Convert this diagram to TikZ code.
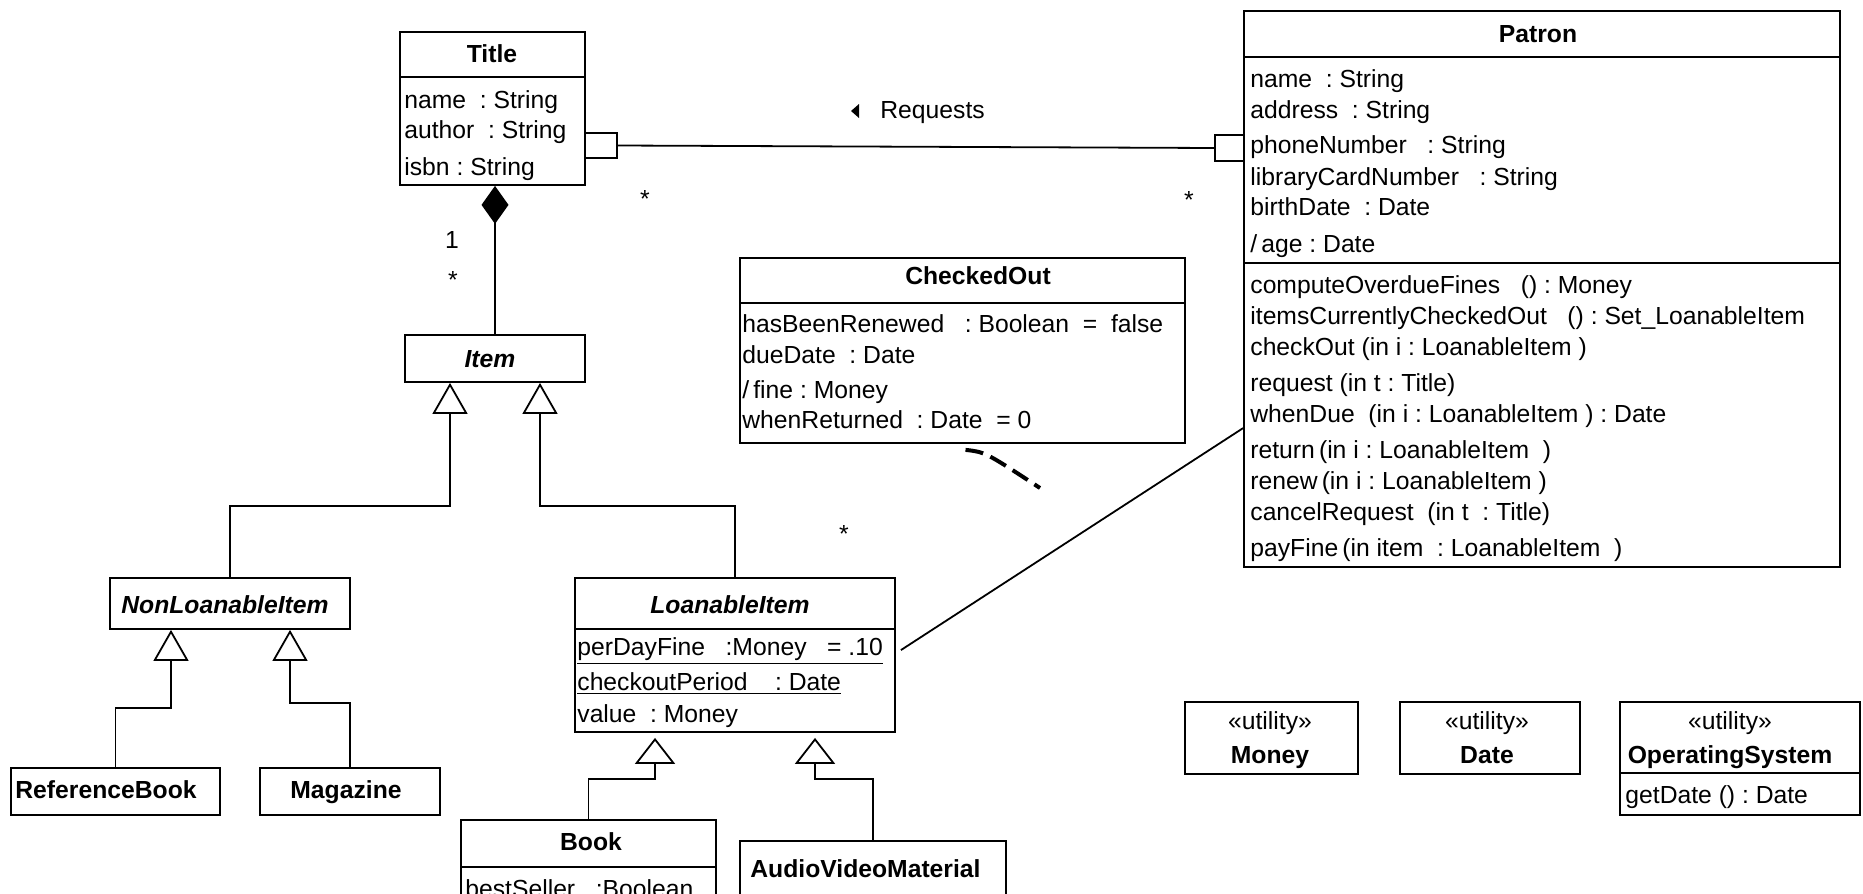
\documentclass[tikz,border=0pt]{standalone}
\usepackage{fontspec}
\setmainfont{Liberation Sans}
\usetikzlibrary{fit,arrows.meta,calc}
\begin{document}
\begin{tikzpicture}[x=0.5pt,y=-0.5pt,
  box/.style={draw,inner sep=0pt,line width=0.9pt},
  txt/.style={inner sep=0pt,anchor=base west,font=\fontsize{12.35pt}{14pt}\selectfont},
  hdr/.style={inner sep=0pt,anchor=base,font=\fontsize{12.35pt}{14pt}\selectfont\bfseries},
  ihdr/.style={inner sep=0pt,anchor=base,font=\fontsize{12.35pt}{14pt}\selectfont\bfseries\itshape},
  ster/.style={inner sep=0pt,anchor=base,font=\fontsize{12.35pt}{14pt}\selectfont},
  conn/.style={line width=0.9pt},
  gen/.style={line width=0.9pt,-{Triangle[open,length=15.5pt,width=17.5pt]}},
  genb/.style={line width=0.9pt,-{Triangle[open,length=13pt,width=20pt]}},
]
\useasboundingbox (0,0) rectangle (1863,894);
\clip (0,0) rectangle (1863,894);

% ---------- Title ----------
\node[box,fit={(400,32) (585,77)}] (titleh) {};
\node[box,fit={(400,77) (585,185)}] (titleb) {};
\node[hdr] (titlet) at (492,62) {Title};
\node[txt] (ta1) at (404,108) {name~~:~String};
\node[txt] (ta2) at (404,138) {author~~:~String};
\node[txt] (ta3) at (404,175) {isbn~:~String};

% ---------- qualifiers ----------
\node[box,fit={(585,133) (617,158)}] (tq) {};
\node[box,fit={(1215,135) (1244,161)}] (pq) {};

% ---------- Patron ----------
\node[box,fit={(1244,11) (1840,57)}] (patronh) {};
\node[box,fit={(1244,57) (1840,263)}] (patrona) {};
\node[box,fit={(1244,263) (1840,567)}] (patrono) {};
\node[hdr] (patront) at (1538,42) {Patron};
\node[txt] (pa1) at (1250,87) {name~~:~String};
\node[txt] (pa2) at (1250,118) {address~~:~String};
\node[txt] (pa3) at (1250,153) {phoneNumber~~~:~String};
\node[txt] (pa4) at (1250,185) {libraryCardNumber~~~:~String};
\node[txt] (pa5) at (1250,215) {birthDate~~:~Date};
\node[txt] (pa6) at (1250,252) {/\,age~:~Date};
\node[txt] (po1) at (1250,293) {computeOverdueFines~~~()~:~Money};
\node[txt] (po2) at (1250,324) {itemsCurrentlyCheckedOut~~~()~:~Set\_LoanableItem};
\node[txt] (po3) at (1250,355) {checkOut~(in~i~:~LoanableItem~)};
\node[txt] (po4) at (1250,391) {request~(in~t~:~Title)};
\node[txt] (po5) at (1250,422) {whenDue~~(in~i~:~LoanableItem~)~:~Date};
\node[txt] (po6) at (1250,458) {return\,(in~i~:~LoanableItem~~)};
\node[txt] (po7) at (1250,489) {renew\,(in~i~:~LoanableItem~)};
\node[txt] (po8) at (1250,520) {cancelRequest~~(in~t~~:~Title)};
\node[txt] (po9) at (1250,556) {payFine\,(in~item~~:~LoanableItem~~)};

% ---------- CheckedOut ----------
\node[box,fit={(740,258) (1185,303)}] (checkh) {};
\node[box,fit={(740,303) (1185,443)}] (checkb) {};
\node[hdr] (checkt) at (978,284) {CheckedOut};
\node[txt] (ca1) at (742,332) {hasBeenRenewed~~~:~Boolean~~=~~false};
\node[txt] (ca2) at (742,363) {dueDate~~:~Date};
\node[txt] (ca3) at (742,398) {/\,fine~:~Money};
\node[txt] (ca4) at (742,428) {whenReturned~~:~Date~~=~0};

% ---------- Item ----------
\node[box,fit={(405,335) (585,382)}] (item) {};
\node[ihdr] (itemt) at (490,367) {Item};

% ---------- NonLoanableItem ----------
\node[box,fit={(110,578) (350,629)}] (nonloan) {};
\node[ihdr] (nonloant) at (225,613) {NonLoanableItem};

% ---------- LoanableItem ----------
\node[box,fit={(575,578) (895,629)}] (loanh) {};
\node[box,fit={(575,629) (895,732)}] (loanb) {};
\node[ihdr] (loant) at (730,613) {LoanableItem};
\node[txt] (la1) at (577,655) {\underline{perDayFine~~~:Money~~~=~.10}};
\node[txt] (la2) at (577,690) {\underline{checkoutPeriod~~~~:~Date}};
\node[txt] (la3) at (577,722) {value~~:~Money};

% ---------- leaves ----------
\node[box,fit={(11,768) (220,815)}] (refbook) {};
\node[hdr] (refbookt) at (106,798) {ReferenceBook};
\node[box,fit={(260,768) (440,815)}] (magazine) {};
\node[hdr] (magazinet) at (346,798) {Magazine};
\node[box,fit={(461,820) (716,867)}] (bookh) {};
\node[box,fit={(461,867) (716,960)}] (bookb) {};
\node[hdr] (bookt) at (591,850) {Book};
\node[txt] (ba1) at (465,897) {bestSeller~~~:Boolean};
\node[box,fit={(740,841) (1006,960)}] (avm) {};
\node[txt,font=\fontsize{12.35pt}{14pt}\selectfont\bfseries] (avmt) at (750,877) {AudioVideoMaterial};

% ---------- utilities ----------
\node[box,fit={(1185,702) (1358,774)}] (money) {};
\node[ster] (moneys) at (1270,729) {«utility»};
\node[hdr] (moneyt) at (1270,763) {Money};
\node[box,fit={(1400,702) (1580,774)}] (date) {};
\node[ster] (dates) at (1487,729) {«utility»};
\node[hdr] (datet) at (1487,763) {Date};
\node[box,fit={(1620,702) (1860,773)}] (osh) {};
\node[box,fit={(1620,773) (1860,815)}] (osb) {};
\node[ster] (oss) at (1730,729) {«utility»};
\node[hdr] (ost) at (1730,763) {OperatingSystem};
\node[txt] (oso) at (1625,803) {getDate~()~:~Date};

% ---------- composition Title <>-- Item ----------
\draw[conn,{Diamond[length=19pt,width=13.5pt]}-] (item.north |- titleb.south) -- (item.north);
\node[ster] (m1) at (452,248) {1};
\node[ster] (m2) at (453,288) {*};

% ---------- Requests association ----------
\draw[conn] (tq.east) -- (pq.west);
\node[txt] (reqlbl) at (880,118) {Requests};
\fill (851,111) -- (859,104) -- (859,118) -- cycle;
\node[ster] (m3) at (645,207) {*};
\node[ster] (m4) at (1189,208) {*};

% ---------- LoanableItem -- Patron association ----------
\draw[conn] ([shift={(2.5pt,-36.5pt)}]loanh.north east) -- ([yshift=-83pt]patrono.north west);
\node[ster] (m5) at (844,542) {*};
\coordinate (assoc) at (1040,488);
\draw[line width=2pt,dash pattern=on 9pt off 4pt] ([shift={(1.5pt,-3pt)}]checkb.south) .. controls (985,452) .. (assoc);

% ---------- generalizations ----------
\draw[gen] (nonloan.north) |- ([xshift=-22.5pt,yshift=-61.5pt]item.south) -- ([xshift=-22.5pt]item.south);
\draw[gen] (loanh.north) |- ([xshift=22.5pt,yshift=-61.5pt]item.south) -- ([xshift=22.5pt]item.south);
\draw[gen] (refbook.north) |- ([xshift=-29.5pt,yshift=-39pt]nonloan.south) -- ([xshift=-29.5pt]nonloan.south);
\draw[gen] (magazine.north) |- ([xshift=30pt,yshift=-36.5pt]nonloan.south) -- ([xshift=30pt]nonloan.south);
\draw[genb] (bookh.north) |- ([xshift=-40pt,yshift=-23pt]loanb.south) -- ([xshift=-40pt,yshift=-2.5pt]loanb.south);
\draw[genb] (avm.north) |- ([xshift=40pt,yshift=-23pt]loanb.south) -- ([xshift=40pt,yshift=-2.5pt]loanb.south);
\end{tikzpicture}
\end{document}
